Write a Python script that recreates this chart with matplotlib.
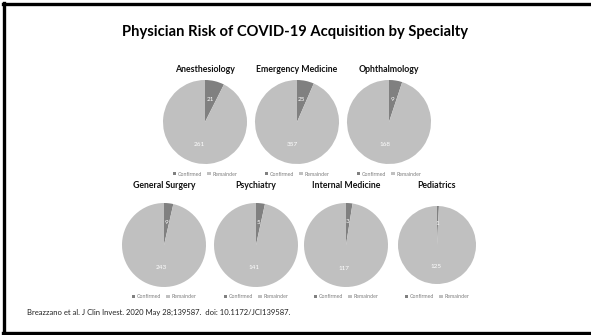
import matplotlib.pyplot as plt
from matplotlib.lines import Line2D
from matplotlib.patches import Patch

plt.rcParams['font.family'] = ['Lato', 'DejaVu Sans']

# confirmed COVID-19 cases vs. rest of the physicians, per specialty
specialties = ['Anesthesiology', 'Emergency Medicine', 'Ophthalmology',
               'General Surgery', 'Psychiatry', 'Internal Medicine', 'Pediatrics']
confirmed = [21, 25, 9, 9, 5, 3, 1]
remainder = [261, 357, 168, 243, 141, 117, 125]
series_names = ['Confirmed', 'Remainder']

W, H = 591, 335
dark = '#808080'
light = '#c0c0c0'

# pie centres / radius in pixels (top row, then bottom row)
centres = [(205, 122), (297, 122), (389, 122),
           (164, 245), (256, 245), (346, 245), (437, 245)]
radii = [42, 42, 42, 42, 42, 42, 39]
title_offset = [52, 52, 52, 60, 60, 60, 60]

fig = plt.figure(figsize=(W / 100, H / 100), dpi=100)
fig.patch.set_facecolor('white')


def px_axes(cx, cy, r):
    return fig.add_axes([(cx - r) / W, 1 - (cy + r) / H, 2 * r / W, 2 * r / H])


for name, c, rem, (cx, cy), r, dy in zip(specialties, confirmed, remainder,
                                         centres, radii, title_offset):
    ax = px_axes(cx, cy, r)
    total = c + rem
    ax.pie([c, rem], colors=[dark, light], startangle=90, counterclock=False,
           autopct=lambda p, t=total: f'{round(p * t / 100)}', pctdistance=0.55,
           wedgeprops=dict(linewidth=0),
           textprops=dict(color='white', fontsize=4.6))
    ax.set_xlim(-1, 1)
    ax.set_ylim(-1, 1)
    ax.set_aspect('equal')
    ax.axis('off')

    fig.text(cx / W, 1 - (cy - dy) / H, name, ha='center', va='center',
             fontsize=6.3, fontweight='bold', color='#111111')

    handles = [Patch(facecolor=dark), Patch(facecolor=light)]
    fig.legend(handles, series_names, loc='center', ncol=2,
               bbox_to_anchor=(cx / W, 1 - (cy + 52) / H), frameon=False,
               fontsize=3.8, labelcolor='#7f7f7f', handlelength=0.6,
               handleheight=0.6, handletextpad=0.3, columnspacing=1.0)

fig.text(295 / W, 1 - 32 / H, 'Physician Risk of COVID-19 Acquisition by Specialty',
         ha='center', va='center', fontsize=10.6, fontweight='bold', color='black')

fig.text(27 / W, 1 - 312 / H,
         'Breazzano et al. J Clin Invest. 2020 May 28;139587.  doi: 10.1172/JCI139587.',
         ha='left', va='center', fontsize=5.5, color='#222222')

# slide frame: left, top and bottom edges
fig.add_artist(Line2D([3.5 / W, 3.5 / W], [1 - 3 / H, 1 - 333 / H],
                      transform=fig.transFigure, color='black', linewidth=2.4))
fig.add_artist(Line2D([2.5 / W, 1], [1 - 3.5 / H, 1 - 3.5 / H],
                      transform=fig.transFigure, color='black', linewidth=2.4))
fig.add_artist(Line2D([2.5 / W, 1], [1 - 332.5 / H, 1 - 332.5 / H],
                      transform=fig.transFigure, color='black', linewidth=2.4))

fig.savefig('out.png', dpi=100)
